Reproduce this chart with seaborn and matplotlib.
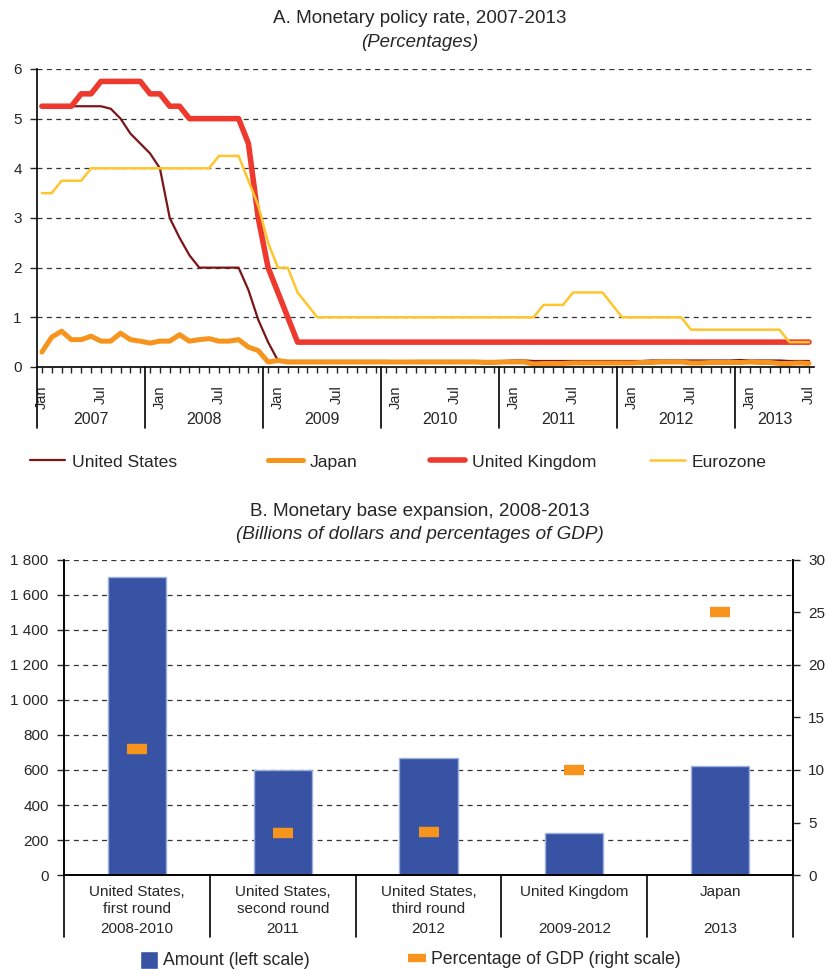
import matplotlib
matplotlib.use("Agg")
import matplotlib.pyplot as plt
import matplotlib.ticker as mticker
from matplotlib.lines import Line2D
from matplotlib.patches import Patch
import seaborn as sns
import pandas as pd

# ---------------- data, panel A (monthly, Jan 2007 - Jul 2013) ----------------
years = ["2007", "2008", "2009", "2010", "2011", "2012", "2013"]

us_rate = [
    5.25, 5.25, 5.25, 5.25, 5.25, 5.25, 5.25, 5.2, 5.0, 4.7, 4.5, 4.3,
    4.0, 3.0, 2.6, 2.25, 2.0, 2.0, 2.0, 2.0, 2.0, 1.55, 0.95, 0.5,
    0.13, 0.12, 0.12, 0.12, 0.12, 0.12, 0.12, 0.12, 0.12, 0.12, 0.12, 0.12,
    0.11, 0.11, 0.12, 0.12, 0.12, 0.12, 0.12, 0.12, 0.12, 0.12, 0.12, 0.12,
    0.13, 0.13, 0.12, 0.12, 0.12, 0.12, 0.12, 0.12, 0.12, 0.12, 0.12, 0.12,
    0.12, 0.12, 0.13, 0.13, 0.13, 0.13, 0.13, 0.13, 0.13, 0.13, 0.13, 0.14,
    0.13, 0.13, 0.13, 0.13, 0.12, 0.12, 0.12,
]
japan_rate = [
    0.3, 0.6, 0.72, 0.55, 0.55, 0.62, 0.52, 0.52, 0.68, 0.55, 0.52, 0.48,
    0.52, 0.52, 0.65, 0.52, 0.55, 0.57, 0.52, 0.52, 0.55, 0.4, 0.33, 0.1,
    0.13, 0.1, 0.1, 0.1, 0.1, 0.1, 0.1, 0.1, 0.1, 0.1, 0.1, 0.1,
    0.1, 0.1, 0.1, 0.1, 0.1, 0.1, 0.1, 0.1, 0.1, 0.09, 0.09, 0.1,
    0.1, 0.1, 0.06, 0.07, 0.07, 0.07, 0.08, 0.08, 0.08, 0.08, 0.08, 0.08,
    0.08, 0.09, 0.09, 0.1, 0.1, 0.1, 0.08, 0.08, 0.09, 0.09, 0.09, 0.09,
    0.1, 0.09, 0.09, 0.07, 0.07, 0.08, 0.07,
]
uk_rate = [
    5.25, 5.25, 5.25, 5.25, 5.5, 5.5, 5.75, 5.75, 5.75, 5.75, 5.75, 5.5,
    5.5, 5.25, 5.25, 5.0, 5.0, 5.0, 5.0, 5.0, 5.0, 4.5, 3.0, 2.0,
    1.5, 1.0, 0.5, 0.5, 0.5, 0.5, 0.5, 0.5, 0.5, 0.5, 0.5, 0.5,
    0.5, 0.5, 0.5, 0.5, 0.5, 0.5, 0.5, 0.5, 0.5, 0.5, 0.5, 0.5,
    0.5, 0.5, 0.5, 0.5, 0.5, 0.5, 0.5, 0.5, 0.5, 0.5, 0.5, 0.5,
    0.5, 0.5, 0.5, 0.5, 0.5, 0.5, 0.5, 0.5, 0.5, 0.5, 0.5, 0.5,
    0.5, 0.5, 0.5, 0.5, 0.5, 0.5, 0.5,
]
euro_rate = [
    3.5, 3.5, 3.75, 3.75, 3.75, 4.0, 4.0, 4.0, 4.0, 4.0, 4.0, 4.0,
    4.0, 4.0, 4.0, 4.0, 4.0, 4.0, 4.25, 4.25, 4.25, 3.75, 3.25, 2.5,
    2.0, 2.0, 1.5, 1.25, 1.0, 1.0, 1.0, 1.0, 1.0, 1.0, 1.0, 1.0,
    1.0, 1.0, 1.0, 1.0, 1.0, 1.0, 1.0, 1.0, 1.0, 1.0, 1.0, 1.0,
    1.0, 1.0, 1.0, 1.25, 1.25, 1.25, 1.5, 1.5, 1.5, 1.5, 1.25, 1.0,
    1.0, 1.0, 1.0, 1.0, 1.0, 1.0, 0.75, 0.75, 0.75, 0.75, 0.75, 0.75,
    0.75, 0.75, 0.75, 0.75, 0.5, 0.5, 0.5,
]
countries = ["United States", "Japan", "United Kingdom", "Eurozone"]

# ---------------- data, panel B ----------------
programmes = ["United States,\nfirst round", "United States,\nsecond round",
              "United States,\nthird round", "United Kingdom", "Japan"]
periods = ["2008-2010", "2011", "2012", "2009-2012", "2013"]
amount = [1700, 600, 670, 240, 620]
pct_gdp = [12.0, 4.0, 4.1, 10.0, 25.0]

# ---------------- style ----------------
sns.set_theme(style="white")
plt.rcParams["font.family"] = ["Liberation Sans", "DejaVu Sans"]
plt.rcParams["axes.edgecolor"] = "black"

colors = {"United States": "#7a1518", "Japan": "#f7941d",
          "United Kingdom": "#ee3a2e", "Eurozone": "#ffc52e"}
widths = {"United States": 1.6, "Japan": 3.6, "United Kingdom": 4.0, "Eurozone": 1.8}
grid_kw = dict(color="#333333", linestyle=(0, (4, 3.5)), linewidth=0.9)

fig = plt.figure(figsize=(8.27, 9.69), dpi=100)

# ================= panel A =================
ax1 = fig.add_axes([0.0447, 0.6213, 0.9395, 0.3075])
n = len(us_rate)
rows = []
for name, vals in zip(countries, [us_rate, japan_rate, uk_rate, euro_rate]):
    for i, v in enumerate(vals):
        rows.append({"month": i, "rate": v, "country": name})
df = pd.DataFrame(rows)

sns.lineplot(data=df, x="month", y="rate", hue="country", size="country",
             hue_order=countries, size_order=countries,
             palette=colors, sizes=widths, legend=False, ax=ax1)

ax1.set_xlim(-0.5, n - 0.5)
ax1.set_ylim(0, 6)
ax1.set_yticks(range(0, 7))
for y in range(1, 7):
    ax1.axhline(y, zorder=0, **grid_kw)
ax1.set_xlabel("")
ax1.set_ylabel("")
sns.despine(ax=ax1, top=True, right=True)
ax1.spines["left"].set_linewidth(1.2)
ax1.spines["bottom"].set_linewidth(1.2)

jan_jul = [i for i in range(n) if i % 6 == 0]
ax1.set_xticks(jan_jul)
ax1.set_xticklabels(["Jan" if i % 12 == 0 else "Jul" for i in jan_jul],
                    rotation=90, fontsize=10.5)
ax1.set_xticks(range(n), minor=True)
ax1.tick_params(axis="x", which="both", direction="out", length=4, width=1,
                bottom=True, pad=9)
ax1.tick_params(axis="y", direction="out", length=5, width=1, left=True,
                labelsize=11, pad=6)

# year separators and year labels
bounds = [-0.5] + [10.5 + 12 * k for k in range(6)] + [n - 0.5]
for b in bounds[:-1]:
    ax1.plot([b, b], [0, -0.205], color="black", lw=1.2,
             transform=ax1.get_xaxis_transform(), clip_on=False)
for k, yr in enumerate(years):
    mid = (bounds[k] + bounds[k + 1]) / 2
    ax1.text(mid, -0.175, yr, transform=ax1.get_xaxis_transform(),
             ha="center", va="center", fontsize=11.5)

fig.text(0.508, 0.981, "A. Monetary policy rate, 2007-2013", ha="center",
         va="center", fontsize=13.6)
fig.text(0.508, 0.956, "(Percentages)", ha="center", va="center",
         fontsize=13.4, style="italic")

# legend items placed where the reference puts them
leg_x = [30, 268, 430, 650]
for c, x in zip(countries, leg_x):
    fig.legend([Line2D([0], [0], color=colors[c], lw=widths[c])], [c],
               loc="center left", bbox_to_anchor=(x / 827, 1 - 462 / 969),
               frameon=False, fontsize=12.6, handlelength=2.0,
               handletextpad=0.4, borderpad=0, borderaxespad=0)

# ================= panel B =================
ax2 = fig.add_axes([0.0774, 0.097, 0.8815, 0.3251])
sns.barplot(x=programmes, y=amount, color="#3853a4", width=0.4,
            edgecolor="#9fb1df", linewidth=1, saturation=1, ax=ax2)
ax2.set_ylim(0, 1800)
ax2.set_yticks(range(0, 1801, 200))
ax2.yaxis.set_major_formatter(mticker.FuncFormatter(lambda v, p: f"{int(v):,}".replace(",", " ")))
ax2.set_axisbelow(True)
for y in range(200, 1801, 200):
    ax2.axhline(y, zorder=0, **grid_kw)
ax2.tick_params(axis="y", direction="out", length=5, width=1, left=True,
                labelsize=11, pad=6)
ax2.tick_params(axis="x", length=0, labelsize=11, pad=7)
ax2.set_xlabel("")
ax2.set_ylabel("")
for lab in ax2.get_xticklabels():
    lab.set_linespacing(1.3)

ax3 = ax2.twinx()
sns.pointplot(x=programmes, y=pct_gdp, color="#f7941d", marker="_",
              markersize=15, markeredgewidth=7.5, linestyle="none",
              errorbar=None, ax=ax3)
ax3.set_ylim(0, 30)
ax3.set_yticks(range(0, 31, 5))
ax3.set_ylabel("")
ax3.set_xlabel("")
ax3.tick_params(axis="y", direction="out", length=5, width=1, right=True,
                labelsize=11, pad=6)
ax3.set_xlim(-0.5, len(programmes) - 0.5)
for ax in (ax2, ax3):
    ax.spines["top"].set_visible(False)
    for s in ("left", "right", "bottom"):
        ax.spines[s].set_linewidth(1.2)

for k in range(len(programmes) + 1):
    ax2.plot([k - 0.5, k - 0.5], [0, -0.197], color="black", lw=1.2,
             transform=ax2.get_xaxis_transform(), clip_on=False)
for k, per in enumerate(periods):
    ax2.text(k, -0.172, per, transform=ax2.get_xaxis_transform(),
             ha="center", va="center", fontsize=11)

fig.text(0.508, 0.472, "B. Monetary base expansion, 2008-2013", ha="center",
         va="center", fontsize=13.6)
fig.text(0.508, 0.448, "(Billions of dollars and percentages of GDP)",
         ha="center", va="center", fontsize=13.6, style="italic")

fig.legend([Patch(facecolor="#3853a4")], ["Amount (left scale)"],
           loc="center left", bbox_to_anchor=(140 / 827, 1 - 960 / 969),
           frameon=False, fontsize=12.7, handlelength=1.0, handleheight=1.2,
           handletextpad=0.3, borderpad=0, borderaxespad=0)
fig.legend([Line2D([0], [0], color="#f7941d", lw=6, solid_capstyle="butt")],
           ["Percentage of GDP (right scale)"],
           loc="center left", bbox_to_anchor=(408 / 827, 1 - 960 / 969),
           frameon=False, fontsize=12.7, handlelength=1.0,
           handletextpad=0.3, borderpad=0, borderaxespad=0)

fig.savefig("out.png", dpi=100)
